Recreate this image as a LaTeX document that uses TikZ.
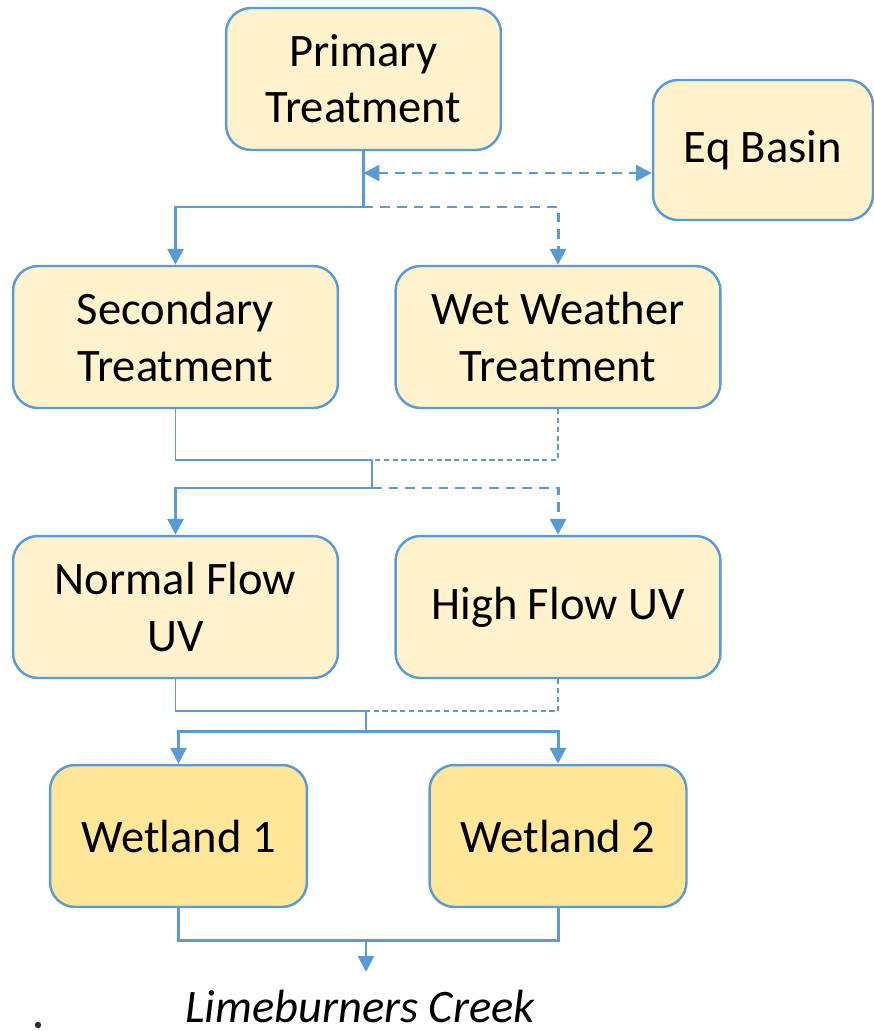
\documentclass[tikz,border=0pt]{standalone}
\usepackage{fontspec}
\setmainfont{Carlito}
\usepackage{xcolor}
\usetikzlibrary{arrows.meta,positioning,calc}
\definecolor{pipeblue}{HTML}{5B9BD5}
\definecolor{paleyellow}{HTML}{FFF2CC}
\definecolor{wetyellow}{HTML}{FFE699}
\definecolor{dotgray}{HTML}{262A33}
\tikzset{
  proc/.style={draw=pipeblue, line width=1.4pt, fill=paleyellow, rounded corners=0.5cm,
    align=center, font=\fontsize{26.5}{32}\selectfont, inner sep=0pt},
  wetbox/.style={proc, fill=wetyellow},
  pipe/.style={draw=pipeblue, line width=1.7pt},
  tie/.style={draw=pipeblue, line width=0.75pt},
  dashpipe/.style={pipe, dash pattern=on 5.5pt off 4pt},
  dashtie/.style={tie, dash pattern=on 3pt off 2pt},
  tip/.style={-{Triangle[length=9pt,width=9pt]}}
}

\begin{document}
\begin{tikzpicture}[x=0.02cm, y=-0.02cm]
    \useasboundingbox (0,0) rectangle (874,1031);

    % Treatment
    \node[proc, minimum width=5.5cm, minimum height=2.84cm] (primary) at (363.5,79) {Primary\\Treatment};
    \node[proc, minimum width=4.4cm, minimum height=2.8cm] (eq) at (763,150) {Eq Basin};
    \node[proc, minimum width=6.5cm, minimum height=2.84cm] (secondary) at (175.5,337) {Secondary\\Treatment};
    \node[proc, minimum width=6.5cm, minimum height=2.84cm] (wetweather) at (558,337) {Wet Weather\\Treatment};

    % UV
    \node[proc, minimum width=6.5cm, minimum height=2.84cm] (normaluv) at (175.5,607) {Normal Flow\\UV};
    \node[proc, minimum width=6.5cm, minimum height=2.84cm] (highuv) at (558,607) {High Flow UV};

    % Wetlands
    \node[wetbox, minimum width=5.14cm, minimum height=2.84cm] (wetland1) at (178.5,836) {Wetland 1};
    \node[wetbox, minimum width=5.14cm, minimum height=2.84cm] (wetland2) at (558,836) {Wetland 2};
    \node[font=\fontsize{26.5}{32}\selectfont\itshape, anchor=base] (creek) at (360,1022) {Limeburners Creek};
    \fill[dotgray] (38,1025) circle (3.2);

    % Junctions
    \coordinate (j1) at (363.5,207);
    \coordinate (j2) at (372,460);
    \coordinate (j3) at (372,488);
    \coordinate (j4) at (366,711);
    \coordinate (j5) at (366,731);
    \coordinate (j6) at (366,940);
    \coordinate (eqin) at (363.5,173);

    % Primary to secondary / wet weather
    \draw[pipe] (primary.south) -- (j1);
    \draw[pipe, tip] (j1) -| (secondary.north);
    \draw[dashpipe, tip] (j1) -| (wetweather.north);
    \draw[dashpipe, {Triangle[length=9pt,width=9pt]}-{Triangle[length=9pt,width=9pt]}] (eqin) -- (eqin -| eq.west);

    % Treatment to UV
    \draw[tie] (secondary.south) |- (j2);
    \draw[dashtie] (wetweather.south) |- (j2);
    \draw[tie] (j2) -- (j3);
    \draw[pipe, tip] (j3) -| (normaluv.north);
    \draw[dashpipe, tip] (j3) -| (highuv.north);

    % UV to wetlands
    \draw[tie] (normaluv.south) |- (j4);
    \draw[dashtie] (highuv.south) |- (j4);
    \draw[tie] (j4) -- (j5);
    \draw[pipe, tip] (j5) -| (wetland1.north);
    \draw[pipe, tip] (j5) -| (wetland2.north);

    % Wetlands to creek
    \draw[pipe] (wetland1.south) |- (j6) -| (wetland2.south);
    \draw[pipe, tip] (j6) -- ++(0,32);
\end{tikzpicture}
\end{document}
